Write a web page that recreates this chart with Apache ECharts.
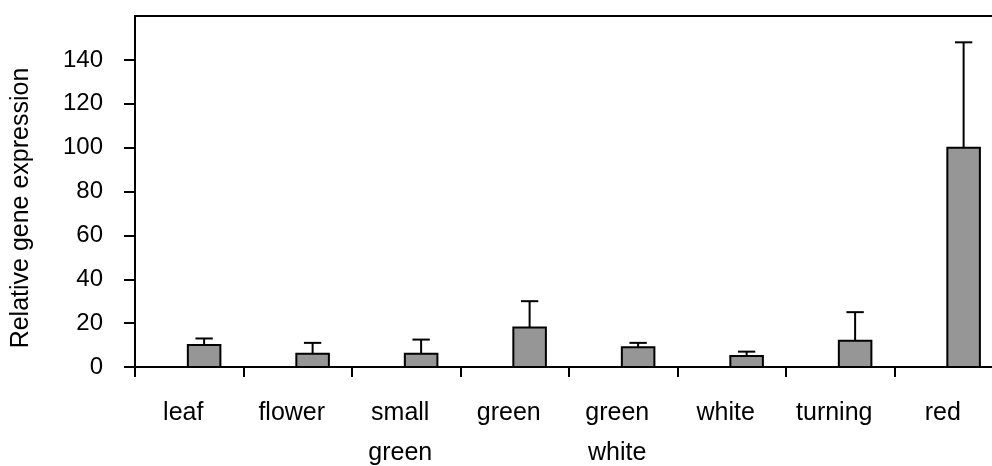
<!DOCTYPE html>
<html>
<head>
<meta charset="utf-8">
<title>Relative gene expression</title>
<script src="https://cdn.jsdelivr.net/npm/echarts@6/dist/echarts.min.js"></script>
<style>
  html, body { margin: 0; padding: 0; background: #fff; }
  #chart { width: 992px; height: 466px; }
</style>
</head>
<body>
<div id="chart"></div>
<script>
// Tissues / fruit stages along the x axis
const categories = ['leaf', 'flower', 'small\ngreen', 'green', 'green\nwhite', 'white', 'turning', 'red'];
// Mean relative expression per sample
const expression = [10, 6, 6, 18, 9, 5, 12, 100];
// Upper error (standard deviation) above each mean
const errorUpper = [3, 5, 6.5, 12, 2, 2, 13, 48];
// Value axis ticks
const yTicks = [0, 20, 40, 60, 80, 100, 120, 140, 160];

const FONT = 'Liberation Sans, Arial, sans-serif';
const BAR_OFFSET = 0.137; // bar centre sits right of the category centre (fraction of band)
const BAR_WIDTH = 0.30;   // fraction of band
const CAP_WIDTH = 0.16;   // error cap, fraction of band

const chart = echarts.init(document.getElementById('chart'), null, { renderer: 'canvas' });

function barItem(params, api) {
  const i = api.value(0);
  const v = api.value(1);
  const base = api.coord([i, 0]);
  const top = api.coord([i, v]);
  const band = api.size([1, 0])[0];
  const cx = base[0] + band * BAR_OFFSET;
  const w = band * BAR_WIDTH;
  return {
    type: 'rect',
    shape: { x: cx - w / 2, y: top[1], width: w, height: base[1] - top[1] },
    style: { fill: '#969696', stroke: '#000', lineWidth: 2 }
  };
}

function errorItem(params, api) {
  const i = api.value(0);
  const v = api.value(1);
  const e = api.value(2);
  const top = api.coord([i, v]);
  const hi = api.coord([i, v + e]);
  const band = api.size([1, 0])[0];
  const cx = top[0] + band * BAR_OFFSET;
  const cw = band * CAP_WIDTH;
  const style = { stroke: '#000', lineWidth: 2 };
  return {
    type: 'group',
    children: [
      { type: 'line', shape: { x1: cx, y1: top[1], x2: cx, y2: hi[1] }, style },
      { type: 'line', shape: { x1: cx - cw / 2, y1: hi[1], x2: cx + cw / 2, y2: hi[1] }, style }
    ]
  };
}

chart.setOption({
  animation: false,
  backgroundColor: '#fff',
  grid: {
    left: 135, top: 16, right: -11, bottom: 99,
    outerBoundsMode: 'none',
    containLabel: false,
    show: true, borderColor: '#000', borderWidth: 2, backgroundColor: 'transparent'
  },
  xAxis: {
    type: 'category',
    data: categories,
    boundaryGap: true,
    axisLine: { lineStyle: { color: '#000', width: 2 } },
    axisTick: { show: true, length: 10, lineStyle: { color: '#000', width: 2 } },
    axisLabel: {
      color: '#000', fontFamily: FONT, fontSize: 25, lineHeight: 40, margin: 26, interval: 0,
      padding: [0, 12, 0, 0]
    },
    splitLine: { show: false }
  },
  yAxis: {
    type: 'value',
    min: yTicks[0],
    max: yTicks[yTicks.length - 1],
    interval: yTicks[1] - yTicks[0],
    axisLine: { show: true, lineStyle: { color: '#000', width: 2 } },
    axisTick: { show: true, length: 11, lineStyle: { color: '#000', width: 2 } },
    axisLabel: {
      color: '#000', fontFamily: FONT, fontSize: 24, margin: 32, showMaxLabel: false
    },
    splitLine: { show: false }
  },
  graphic: [{
    type: 'text',
    x: 21, y: 208,
    rotation: Math.PI / 2,
    style: {
      text: 'Relative gene expression',
      fill: '#000',
      font: '25px ' + FONT,
      align: 'center',
      verticalAlign: 'middle'
    }
  }],
  series: [
    {
      type: 'custom',
      renderItem: barItem,
      data: expression.map((v, i) => [i, v]),
      encode: { x: 0, y: 1 },
      z: 2
    },
    {
      type: 'custom',
      renderItem: errorItem,
      data: expression.map((v, i) => [i, v, errorUpper[i]]),
      encode: { x: 0, y: 1 },
      z: 3
    }
  ]
});
</script>
</body>
</html>
